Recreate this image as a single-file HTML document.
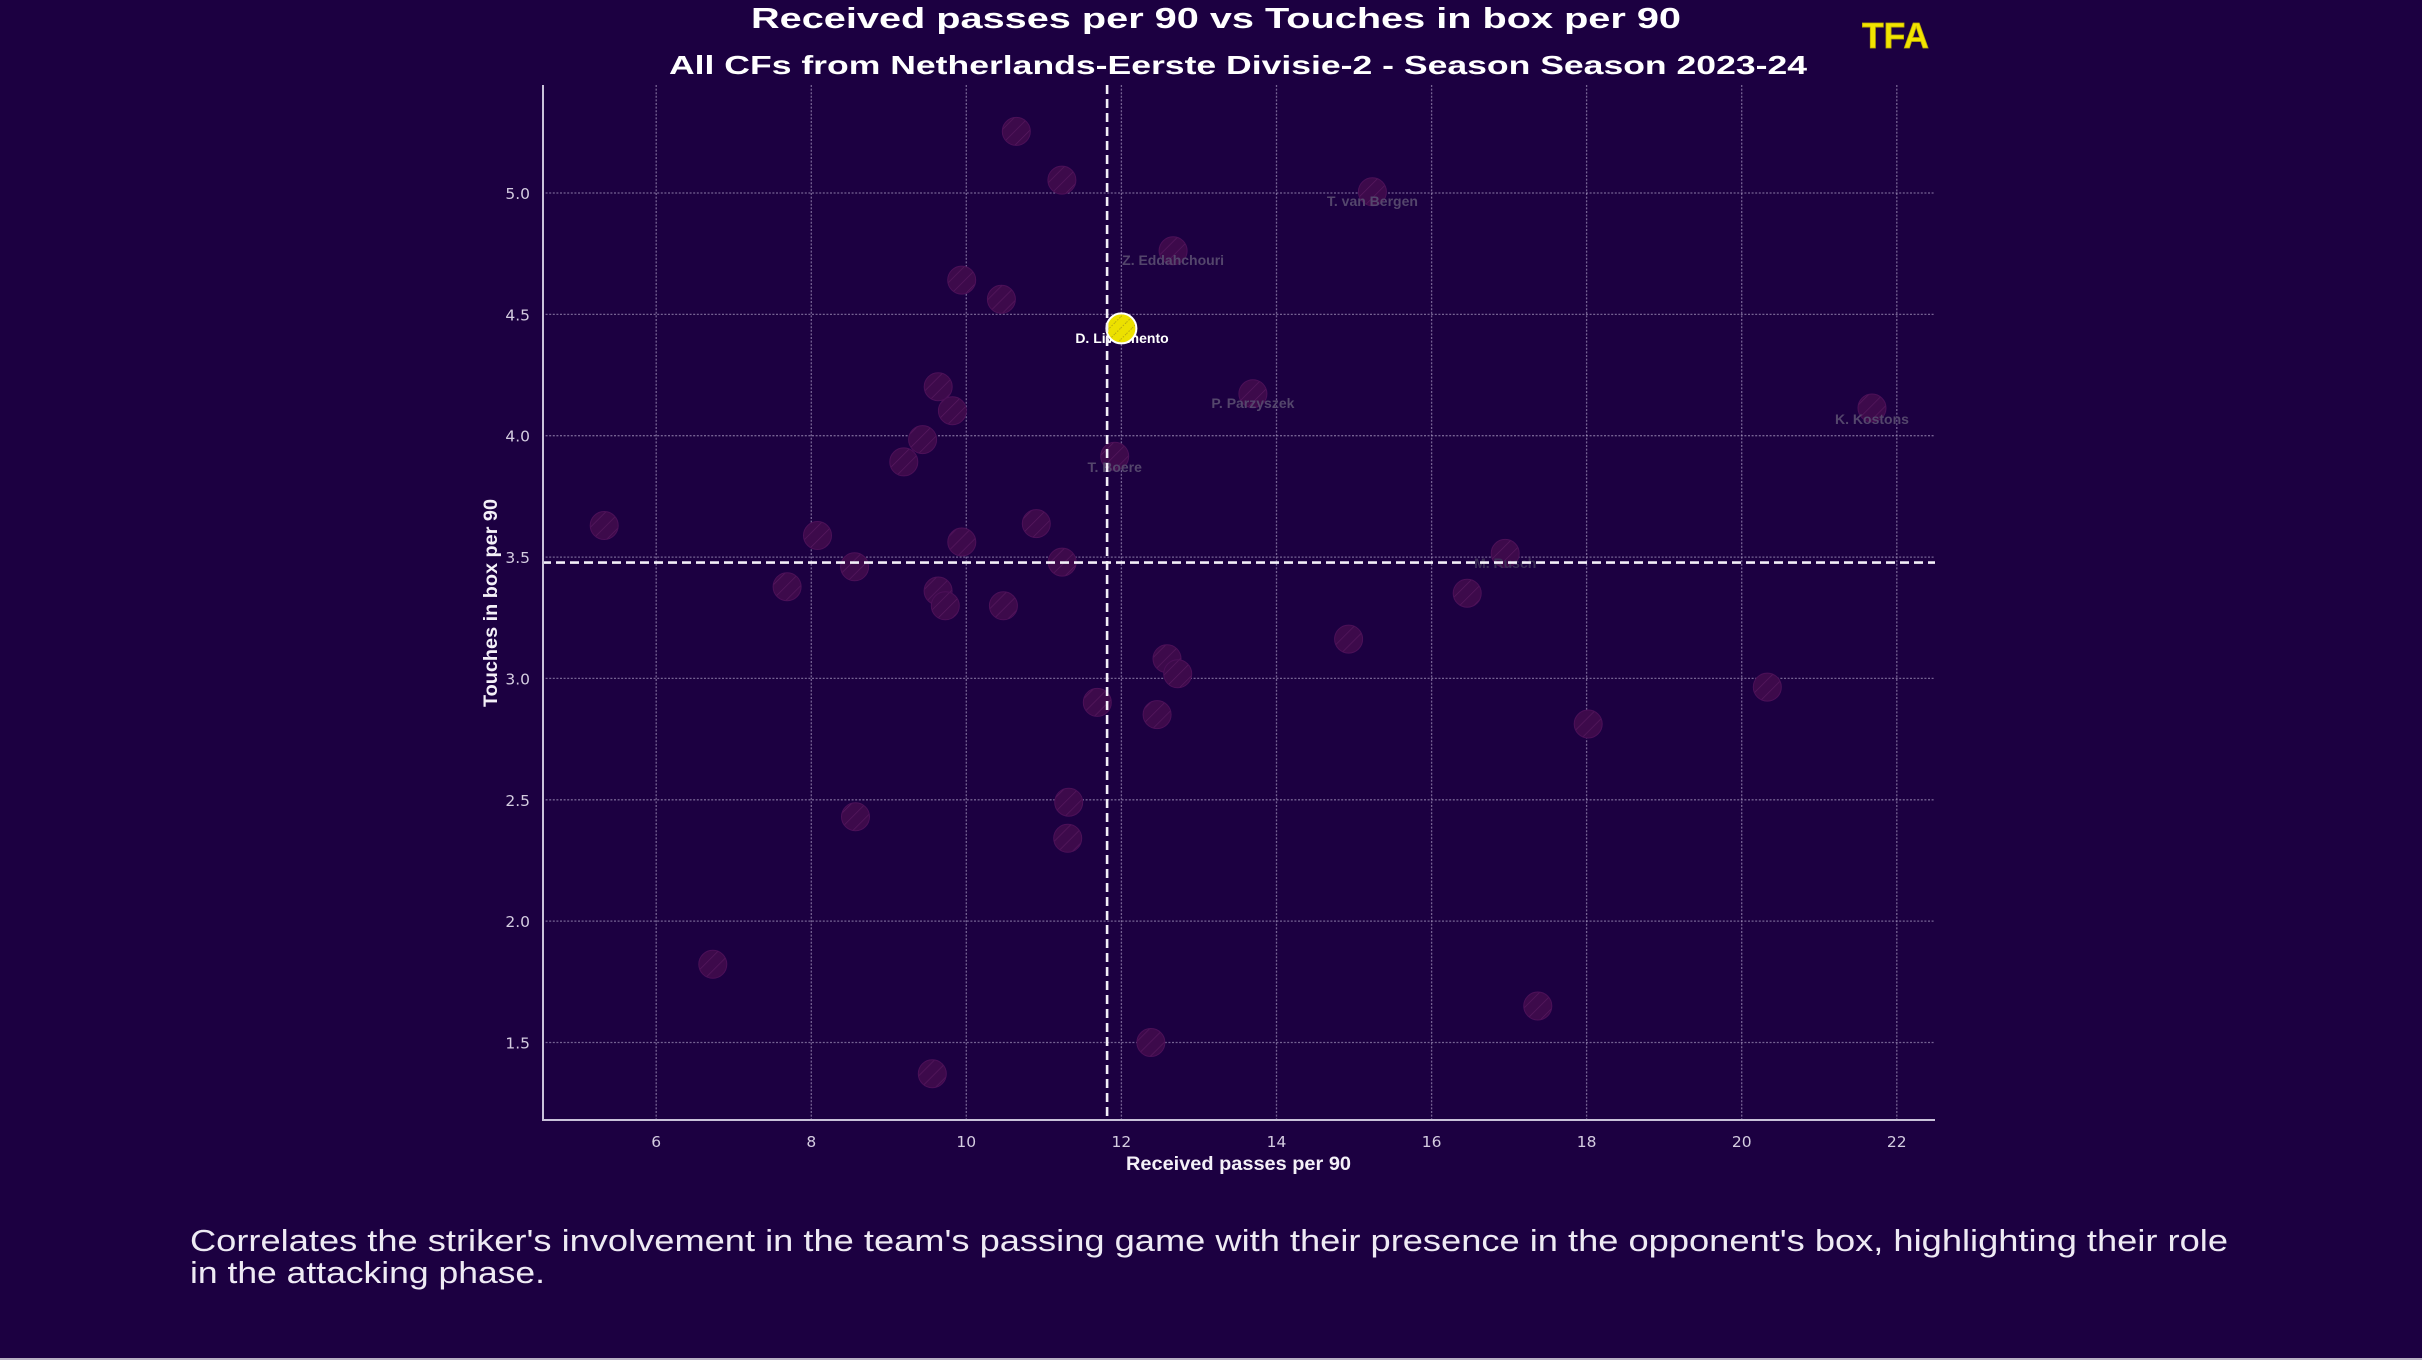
<!DOCTYPE html>
<html>
<head>
<meta charset="utf-8">
<style>
  html,body{margin:0;padding:0;background:#1c0041;}
  svg{display:block;}
</style>
</head>
<body>
<svg width="2422" height="1360" viewBox="0 0 2422 1360" xmlns="http://www.w3.org/2000/svg">
  <defs>
    <pattern id="hatch" patternUnits="userSpaceOnUse" width="10" height="10" patternTransform="rotate(45)">
      <rect width="10" height="10" fill="#3d0a4b"/>
      <line x1="0" y1="0" x2="0" y2="10" stroke="#581a60" stroke-width="1.3"/>
    </pattern>
    <pattern id="hatchY" patternUnits="userSpaceOnUse" width="8" height="8" patternTransform="rotate(45)">
      <rect width="8" height="8" fill="#ece000"/>
      <line x1="0" y1="0" x2="0" y2="8" stroke="#b9ab10" stroke-width="2" stroke-dasharray="1.5 1.5"/>
    </pattern>
  </defs>

  <rect x="0" y="0" width="2422" height="1360" fill="#1c0041"/>
  <rect x="0" y="1358" width="2422" height="2" fill="#b8b0c4"/>

  <!-- Titles -->
  <text x="751" y="28" font-family="Liberation Sans, Arial, sans-serif" font-weight="bold" font-size="29" fill="#ffffff" textLength="930" lengthAdjust="spacingAndGlyphs">Received passes per 90 vs Touches in box per 90</text>
  <text x="669" y="74" font-family="Liberation Sans, Arial, sans-serif" font-weight="bold" font-size="26" fill="#ffffff" textLength="1138" lengthAdjust="spacingAndGlyphs">All CFs from Netherlands-Eerste Divisie-2 - Season Season 2023-24</text>
  <text x="1862" y="48" font-family="Liberation Sans, Arial, sans-serif" font-weight="bold" font-size="36" fill="#f2e400" stroke="#bfae00" stroke-width="0.8" textLength="67" lengthAdjust="spacingAndGlyphs">TFA</text>

  <!-- Grid -->
  <g stroke="#b0a4c8" stroke-opacity="0.6" stroke-width="1.3" stroke-dasharray="2 1.6" fill="none">
    <line x1="656.2" y1="85" x2="656.2" y2="1120"/>
    <line x1="811.3" y1="85" x2="811.3" y2="1120"/>
    <line x1="966.3" y1="85" x2="966.3" y2="1120"/>
    <line x1="1121.4" y1="85" x2="1121.4" y2="1120"/>
    <line x1="1276.5" y1="85" x2="1276.5" y2="1120"/>
    <line x1="1431.6" y1="85" x2="1431.6" y2="1120"/>
    <line x1="1586.6" y1="85" x2="1586.6" y2="1120"/>
    <line x1="1741.7" y1="85" x2="1741.7" y2="1120"/>
    <line x1="1896.8" y1="85" x2="1896.8" y2="1120"/>
    <line x1="542" y1="193" x2="1935" y2="193"/>
    <line x1="542" y1="314.4" x2="1935" y2="314.4"/>
    <line x1="542" y1="435.7" x2="1935" y2="435.7"/>
    <line x1="542" y1="557.1" x2="1935" y2="557.1"/>
    <line x1="542" y1="678.4" x2="1935" y2="678.4"/>
    <line x1="542" y1="799.8" x2="1935" y2="799.8"/>
    <line x1="542" y1="921.1" x2="1935" y2="921.1"/>
    <line x1="542" y1="1042.5" x2="1935" y2="1042.5"/>
  </g>

  <!-- Tick labels -->
  <g font-family="DejaVu Sans, Liberation Sans, sans-serif" font-size="15.5" fill="#d4cce0" text-anchor="middle">
    <text x="656.2" y="1147">6</text>
    <text x="811.3" y="1147">8</text>
    <text x="966.3" y="1147">10</text>
    <text x="1121.4" y="1147">12</text>
    <text x="1276.5" y="1147">14</text>
    <text x="1431.6" y="1147">16</text>
    <text x="1586.6" y="1147">18</text>
    <text x="1741.7" y="1147">20</text>
    <text x="1896.8" y="1147">22</text>
  </g>
  <g font-family="DejaVu Sans, Liberation Sans, sans-serif" font-size="15.5" fill="#d4cce0" text-anchor="end">
    <text x="530" y="199">5.0</text>
    <text x="530" y="320.4">4.5</text>
    <text x="530" y="441.7">4.0</text>
    <text x="530" y="563.1">3.5</text>
    <text x="530" y="684.4">3.0</text>
    <text x="530" y="805.8">2.5</text>
    <text x="530" y="927.1">2.0</text>
    <text x="530" y="1048.5">1.5</text>
  </g>

  <!-- Axis labels -->
  <text x="1126" y="1170" font-family="Liberation Sans, Arial, sans-serif" font-weight="bold" font-size="19" fill="#f4f0f8" textLength="225" lengthAdjust="spacingAndGlyphs">Received passes per 90</text>
  <text transform="translate(497,603) rotate(-90)" text-anchor="middle" font-family="Liberation Sans, Arial, sans-serif" font-weight="bold" font-size="19" fill="#f4f0f8" textLength="208" lengthAdjust="spacingAndGlyphs">Touches in box per 90</text>

  <!-- Highlighted label (behind yellow marker) -->
  <text x="1122" y="343" text-anchor="middle" font-family="Liberation Sans, Arial, sans-serif" font-weight="bold" font-size="14" fill="#ffffff">D. Livramento</text>

  <!-- Markers -->
  <g fill="url(#hatch)" stroke="#4c1058" stroke-width="1">
    <circle cx="604.2" cy="525.5" r="14"/>
    <circle cx="712.8" cy="964.3" r="14"/>
    <circle cx="787.1" cy="586.7" r="14"/>
    <circle cx="817.5" cy="535.5" r="14"/>
    <circle cx="854.6" cy="566.8" r="14"/>
    <circle cx="855.5" cy="816.7" r="14"/>
    <circle cx="903.8" cy="461.9" r="14"/>
    <circle cx="922.6" cy="439.6" r="14"/>
    <circle cx="932.3" cy="1073.7" r="14"/>
    <circle cx="938.2" cy="386.7" r="14"/>
    <circle cx="938.1" cy="591" r="14"/>
    <circle cx="945.3" cy="605.8" r="14"/>
    <circle cx="952.4" cy="410.7" r="14"/>
    <circle cx="961.7" cy="280.1" r="14"/>
    <circle cx="961.8" cy="542" r="14"/>
    <circle cx="1001.4" cy="299.3" r="14"/>
    <circle cx="1003.4" cy="605.8" r="14"/>
    <circle cx="1016.3" cy="131.4" r="14"/>
    <circle cx="1036.3" cy="523.6" r="14"/>
    <circle cx="1061.9" cy="180.1" r="14"/>
    <circle cx="1062.2" cy="562.1" r="14"/>
    <circle cx="1068.7" cy="802.2" r="14"/>
    <circle cx="1067.7" cy="838.3" r="14"/>
    <circle cx="1097.3" cy="702.4" r="14"/>
    <circle cx="1114.7" cy="456.3" r="14"/>
    <circle cx="1150.9" cy="1042.5" r="14"/>
    <circle cx="1157.1" cy="714.6" r="14"/>
    <circle cx="1167" cy="658.7" r="14"/>
    <circle cx="1177.7" cy="673.8" r="14"/>
    <circle cx="1173.1" cy="250.8" r="14"/>
    <circle cx="1252.9" cy="393.7" r="14"/>
    <circle cx="1348.6" cy="639.1" r="14"/>
    <circle cx="1372.4" cy="191.8" r="14"/>
    <circle cx="1467.2" cy="593.2" r="14"/>
    <circle cx="1505.2" cy="553.4" r="14"/>
    <circle cx="1537.8" cy="1006" r="14"/>
    <circle cx="1588.2" cy="724" r="14"/>
    <circle cx="1767.3" cy="687.1" r="14"/>
    <circle cx="1872" cy="408" r="14"/>
  </g>
  <circle cx="1121.4" cy="328.4" r="15" fill="url(#hatchY)" stroke="#ffffff" stroke-width="2"/>

  <!-- Grey labels (above markers) -->
  <g font-family="Liberation Sans, Arial, sans-serif" font-weight="bold" font-size="14" fill="#54466c" text-anchor="middle">
    <text x="1372.4" y="206">T. van Bergen</text>
    <text x="1173.1" y="265">Z. Eddahchouri</text>
    <text x="1252.9" y="408">P. Parzyszek</text>
    <text x="1872" y="424">K. Kostons</text>
    <text x="1114.7" y="472">T. Boere</text>
    <text x="1505.2" y="568" fill="#3a2d55">M. Rusch</text>
  </g>

  <!-- Mean lines -->
  <line x1="1107.1" y1="85" x2="1107.1" y2="1120" stroke="#f2eef7" stroke-width="2.6" stroke-dasharray="9 5"/>
  <line x1="542" y1="562.6" x2="1935" y2="562.6" stroke="#f2eef7" stroke-width="2.6" stroke-dasharray="9 5"/>

  <!-- Spines -->
  <line x1="543" y1="85" x2="543" y2="1121" stroke="#c9c1d9" stroke-width="2"/>
  <line x1="542" y1="1120" x2="1935" y2="1120" stroke="#c9c1d9" stroke-width="2"/>

  <!-- Caption -->
  <text x="190" y="1251" font-family="Liberation Sans, Arial, sans-serif" font-size="31" fill="#eeeaf4" textLength="2038" lengthAdjust="spacingAndGlyphs">Correlates the striker's involvement in the team's passing game with their presence in the opponent's box, highlighting their role</text>
  <text x="190" y="1283" font-family="Liberation Sans, Arial, sans-serif" font-size="31" fill="#eeeaf4" textLength="355" lengthAdjust="spacingAndGlyphs">in the attacking phase.</text>
</svg>
</body>
</html>
